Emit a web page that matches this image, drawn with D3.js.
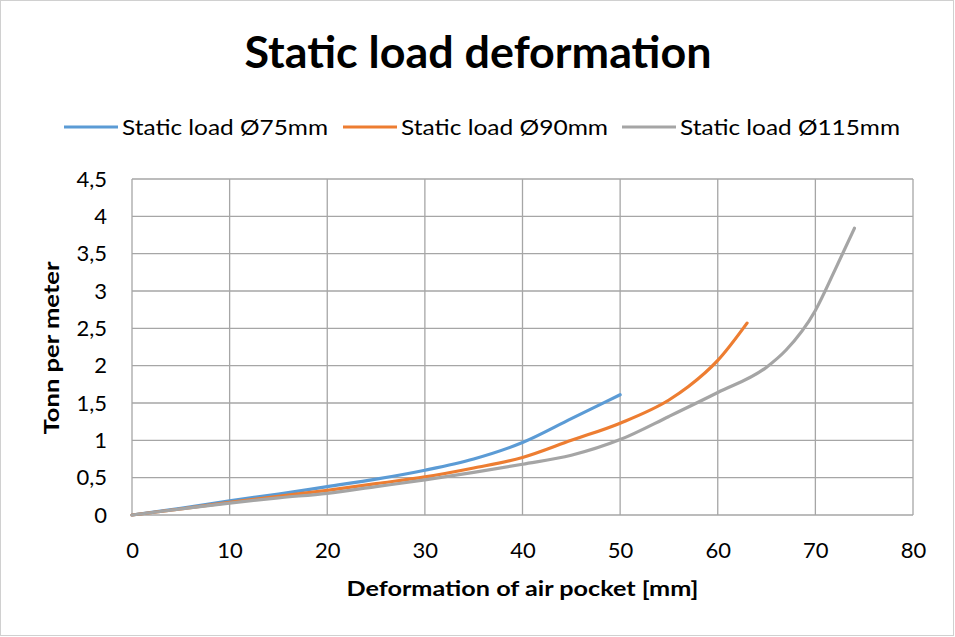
<!DOCTYPE html>
<html>
<head>
<meta charset="utf-8">
<script src="https://cdn.jsdelivr.net/npm/d3@7"></script>
<style>
  body { margin: 0; background: #fff; }
  text { font-family: Lato, "Open Sans", sans-serif; fill: #000; }
</style>
</head>
<body>
<div id="chart"></div>
<script>
// values, x in mm
var xs75 = [0, 5, 10, 15, 20, 25, 30, 35, 40, 45, 50];
var ys75 = [0, 0.09, 0.19, 0.28, 0.38, 0.48, 0.60, 0.75, 0.97, 1.29, 1.61];

var xs90 = [0, 5, 10, 15, 20, 25, 30, 35, 40, 45, 50, 55, 57, 60, 63];
var ys90 = [0, 0.08, 0.17, 0.25, 0.33, 0.42, 0.51, 0.63, 0.77, 1.0, 1.23, 1.54, 1.72, 2.07, 2.57];

var xs115 = [0, 5, 10, 15, 20, 25, 30, 35, 40, 45, 50, 55, 60, 65, 67, 70, 72, 74];
var ys115 = [0, 0.08, 0.16, 0.23, 0.29, 0.38, 0.47, 0.57, 0.68, 0.80, 1.01, 1.32, 1.64, 1.98, 2.21, 2.74, 3.28, 3.84];

var seriesNames = ["Static load Ø75mm", "Static load Ø90mm", "Static load Ø115mm"];
var seriesColors = ["#5B9BD5", "#ED7D31", "#A5A5A5"];
var xTicks = [0, 10, 20, 30, 40, 50, 60, 70, 80];
var yTicks = [0, 0.5, 1, 1.5, 2, 2.5, 3, 3.5, 4, 4.5];

var W = 955, H = 637;
var margin = {left: 132, right: 42, top: 179, bottom: 122};

var svg = d3.select("#chart").append("svg")
  .attr("width", W)
  .attr("height", H);

svg.append("rect")
  .attr("x", 0.5).attr("y", 0.5)
  .attr("width", W - 2).attr("height", H - 2)
  .attr("fill", "#fff")
  .attr("stroke", "#d0d0d0");

var x = d3.scaleLinear().domain([0, 80]).range([margin.left, W - margin.right]);
var y = d3.scaleLinear().domain([0, 4.5]).range([H - margin.bottom, margin.top]);

// grid
svg.append("g").selectAll("line").data(xTicks).enter().append("line")
  .attr("x1", function(d) { return x(d); }).attr("x2", function(d) { return x(d); })
  .attr("y1", y(0)).attr("y2", y(4.5))
  .attr("stroke", "#a6a6a6").attr("stroke-width", 1.3);
svg.append("g").selectAll("line").data(yTicks).enter().append("line")
  .attr("x1", x(0)).attr("x2", x(80))
  .attr("y1", function(d) { return y(d); }).attr("y2", function(d) { return y(d); })
  .attr("stroke", "#a6a6a6").attr("stroke-width", 1.3);

// axes (labels only)
var fmt = function(d) { return String(d).replace(".", ","); };
var xAxis = svg.append("g")
  .attr("transform", "translate(0," + y(0) + ")")
  .call(d3.axisBottom(x).tickValues(xTicks).tickSize(0).tickPadding(27).tickFormat(fmt));
var yAxis = svg.append("g")
  .attr("transform", "translate(" + x(0) + ",0)")
  .call(d3.axisLeft(y).tickValues(yTicks).tickSize(0).tickPadding(25).tickFormat(fmt));
[xAxis, yAxis].forEach(function(a) {
  a.select(".domain").remove();
  a.selectAll("text").style("font-size", "22px").attr("fill", "#000");
});

// lines
var data = [
  xs75.map(function(v, i) { return [v, ys75[i]]; }),
  xs90.map(function(v, i) { return [v, ys90[i]]; }),
  xs115.map(function(v, i) { return [v, ys115[i]]; })
];
var line = d3.line()
  .x(function(d) { return x(d[0]); })
  .y(function(d) { return y(d[1]); })
  .curve(d3.curveMonotoneX);

svg.append("g").selectAll("path").data(data).enter().append("path")
  .attr("d", line)
  .attr("fill", "none")
  .attr("stroke", function(d, i) { return seriesColors[i]; })
  .attr("stroke-width", 3.2)
  .attr("stroke-linecap", "round");

// title
svg.append("text")
  .attr("x", 478).attr("y", 68)
  .attr("text-anchor", "middle")
  .attr("textLength", 467).attr("lengthAdjust", "spacingAndGlyphs")
  .style("font-size", "44px").style("font-weight", "bold")
  .text("Static load deformation");

// legend
var legX = [64, 343, 622];
var legW = [206, 207, 220];
var leg = svg.append("g").selectAll("g").data(seriesNames).enter().append("g")
  .attr("transform", function(d, i) { return "translate(" + legX[i] + ",127)"; });
leg.append("line")
  .attr("x1", 0).attr("x2", 54)
  .attr("stroke", function(d, i) { return seriesColors[i]; })
  .attr("stroke-width", 3.2);
leg.append("text")
  .attr("x", 58).attr("dy", "0.35em")
  .attr("textLength", function(d, i) { return legW[i]; })
  .attr("lengthAdjust", "spacingAndGlyphs")
  .style("font-size", "22px")
  .text(function(d) { return d; });

// axis titles
svg.append("text")
  .attr("x", (x(0) + x(80)) / 2).attr("y", 596)
  .attr("text-anchor", "middle")
  .attr("textLength", 352).attr("lengthAdjust", "spacingAndGlyphs")
  .style("font-size", "20px").style("font-weight", "bold")
  .text("Deformation of air pocket [mm]");

svg.append("text")
  .attr("transform", "translate(59," + 348 + ") rotate(-90)")
  .attr("text-anchor", "middle")
  .attr("textLength", 173).attr("lengthAdjust", "spacingAndGlyphs")
  .style("font-size", "20px").style("font-weight", "bold")
  .text("Tonn per meter");
</script>
</body>
</html>
